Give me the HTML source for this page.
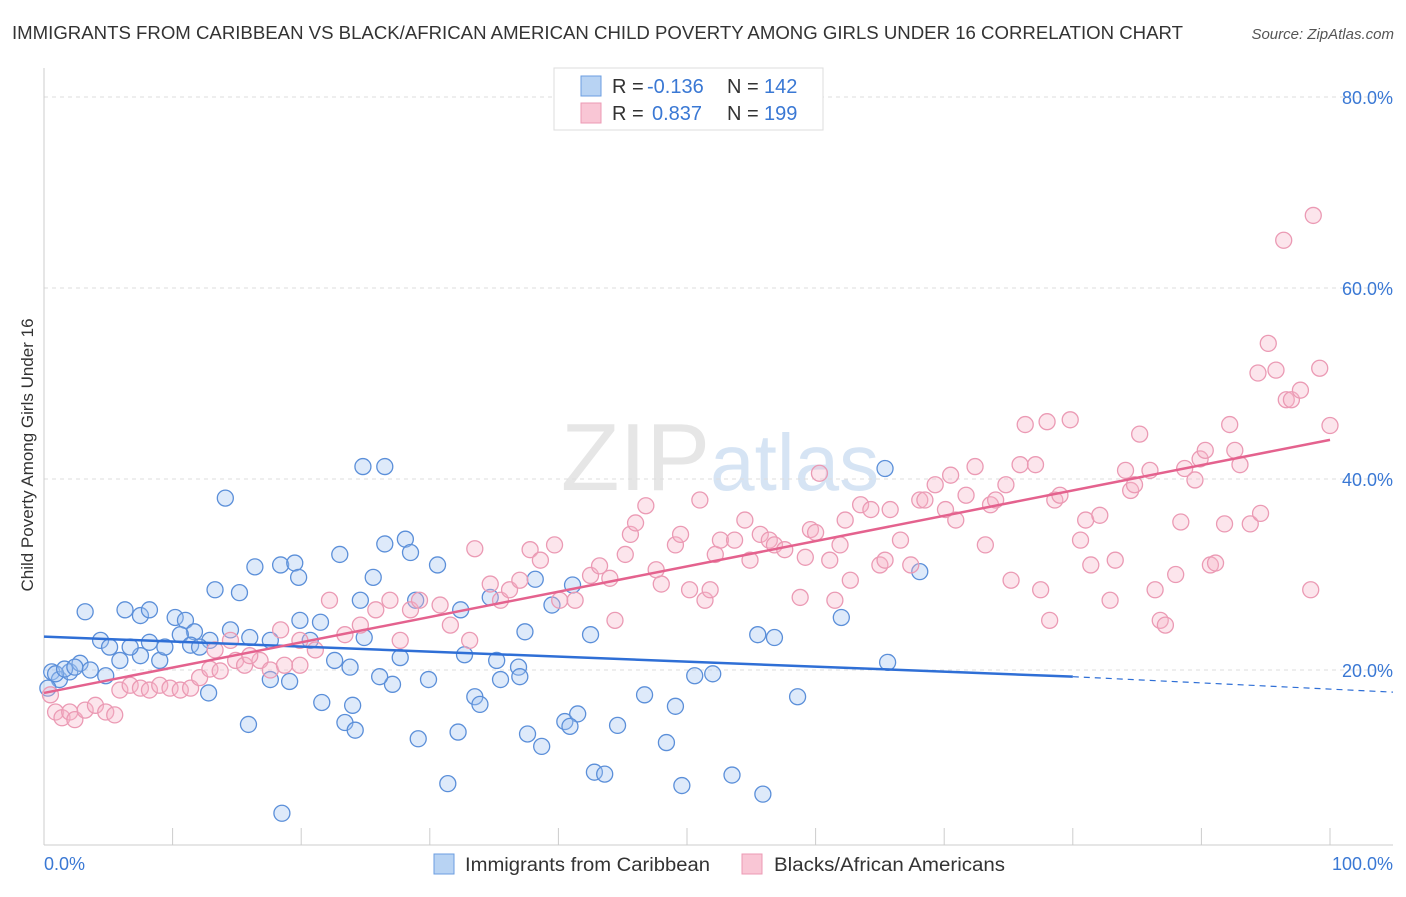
<!DOCTYPE html>
<html><head><meta charset="utf-8"><style>
body{margin:0;background:#fff;font-family:"Liberation Sans",sans-serif;}
svg text{font-family:"Liberation Sans",sans-serif;}
</style></head><body>
<svg id="chart" width="1406" height="892">
<text x="12" y="39" font-size="18" fill="#333" textLength="1171" lengthAdjust="spacingAndGlyphs">IMMIGRANTS FROM CARIBBEAN VS BLACK/AFRICAN AMERICAN CHILD POVERTY AMONG GIRLS UNDER 16 CORRELATION CHART</text>
<text x="1394" y="39" font-size="15" fill="#555" font-style="italic" text-anchor="end">Source: ZipAtlas.com</text>
<text x="720" y="490" font-size="96" fill="#e6e6e6" text-anchor="middle" font-family="Liberation Serif">ZIP<tspan fill="#d6e4f4" font-family="Liberation Sans" font-size="80">atlas</tspan></text>
<g id="grid"></g><g id="axes"></g><g id="pts"></g><g id="lines"></g>
<text transform="translate(33,455) rotate(-90)" font-size="17" fill="#333" text-anchor="middle">Child Poverty Among Girls Under 16</text>
<text x="44" y="870" font-size="18" fill="#3a78d4">0.0%</text>
<text x="1393" y="870" font-size="18" fill="#3a78d4" text-anchor="end">100.0%</text>
<g>
<rect x="554" y="68" width="269" height="62" fill="#fff" stroke="#ddd"/>
<rect x="581" y="76" width="20" height="20" fill="#b8d3f3" stroke="#6b9ee0"/>
<rect x="581" y="103" width="20" height="20" fill="#f9c6d5" stroke="#ec9ab4"/>
<text x="612" y="93" font-size="20" fill="#333">R =</text><text x="647" y="93" font-size="20" fill="#3a78d4">-0.136</text>
<text x="727" y="93" font-size="20" fill="#333">N =</text><text x="764" y="93" font-size="20" fill="#3a78d4">142</text>
<text x="612" y="120" font-size="20" fill="#333">R =</text><text x="652" y="120" font-size="20" fill="#3a78d4">0.837</text>
<text x="727" y="120" font-size="20" fill="#333">N =</text><text x="764" y="120" font-size="20" fill="#3a78d4">199</text>
</g>
<g><rect x="434" y="854" width="20" height="20" fill="#b8d3f3" stroke="#6b9ee0"/><text x="465" y="871" font-size="19" fill="#333" textLength="245" lengthAdjust="spacingAndGlyphs">Immigrants from Caribbean</text></g>
<g><rect x="742" y="854" width="20" height="20" fill="#f9c6d5" stroke="#ec9ab4"/><text x="774" y="871" font-size="19" fill="#333" textLength="231" lengthAdjust="spacingAndGlyphs">Blacks/African Americans</text></g>
</svg>
<script>
const yTicks=[20,40,60,80];
const blueX=[0.6,1.2,2.0,2.8,4.4,3.2,6.3,7.5,8.2,10.2,11.0,13.3,15.2,16.4,18.4,19.5,19.8,14.1,24.8,26.5,23.0,26.5,28.1,28.5,30.6,25.6,24.6,28.9,32.4,34.7,37.4,38.2,39.5,41.1,42.5,32.7,35.2,36.9,35.5,37.0,33.5,33.9,29.9,27.1,26.1,23.8,22.6,24.9,27.7,21.5,20.7,19.9,17.6,16.0,14.5,12.9,11.7,10.6,9.0,7.5,5.9,4.8,3.6,21.6,24.0,23.4,24.2,15.9,17.6,19.1,12.8,29.1,32.2,31.4,37.6,38.7,40.5,41.5,40.9,44.6,42.8,43.6,46.7,49.1,48.4,49.6,50.6,52.0,53.5,55.9,58.6,55.5,56.8,62.0,65.6,65.4,68.1,18.5,0.3,0.9,1.6,2.4,6.7,5.1,8.2,9.4,11.4,12.1];
const blueY=[19.8,19.0,19.8,20.7,23.1,26.1,26.3,25.7,26.3,25.5,25.2,28.4,28.1,30.8,31.0,31.2,29.7,38.0,41.3,41.3,32.1,33.2,33.7,32.3,31.0,29.7,27.3,27.3,26.3,27.6,24.0,29.5,26.8,28.9,23.7,21.6,21.0,20.3,19.0,19.3,17.2,16.4,19.0,18.5,19.3,20.3,21.0,23.4,21.3,25.0,23.1,25.2,23.1,23.4,24.2,23.1,24.0,23.7,21.0,21.5,21.0,19.4,20.0,16.6,16.3,14.5,13.7,14.3,19.0,18.8,17.6,12.8,13.5,8.1,13.3,12.0,14.6,15.4,14.1,14.2,9.3,9.1,17.4,16.2,12.4,7.9,19.4,19.6,9.0,7.0,17.2,23.7,23.4,25.5,20.8,41.1,30.3,5.0,18.1,19.6,20.1,20.3,22.4,22.4,22.9,22.4,22.6,22.4];
const pinkX=[0.5,0.9,1.4,2.0,2.4,3.2,4.0,4.8,5.5,5.9,6.7,7.5,8.2,9.0,9.8,10.6,11.4,12.1,12.9,13.7,14.9,15.6,16.8,17.6,18.7,19.9,13.3,14.5,16.0,18.4,19.9,21.1,22.2,23.4,24.6,25.8,26.9,27.7,28.5,29.2,30.8,31.6,33.1,33.5,34.7,35.5,36.2,37.0,37.8,38.6,39.7,40.1,41.3,42.5,43.2,44.0,44.4,45.2,45.6,46.0,46.8,47.6,48.0,49.1,49.5,50.2,51.0,51.4,51.8,52.2,52.6,53.7,54.5,54.9,55.7,56.4,56.8,57.6,58.8,59.2,59.6,60.0,60.3,61.1,61.5,61.9,62.3,62.7,63.5,64.3,65.0,65.4,65.8,66.6,67.4,68.1,68.5,69.3,70.1,70.5,70.9,71.7,72.4,73.2,73.6,74.0,74.8,75.2,75.9,76.3,77.1,77.5,78.0,78.2,78.6,79.0,79.8,80.6,81.0,81.4,82.1,82.9,83.3,84.1,84.5,84.8,85.2,86.0,86.4,86.8,87.2,88.0,88.4,88.7,89.5,89.9,90.3,90.7,91.1,91.8,92.2,92.6,93.0,93.8,94.6,94.4,95.2,95.8,96.6,97.0,97.7,98.5,99.2,100.0,96.4,98.7];
const pinkY=[17.4,15.6,15.0,15.6,14.8,15.8,16.3,15.6,15.3,17.9,18.4,18.1,17.9,18.4,18.1,17.9,18.1,19.2,20.1,19.9,21.0,20.5,21.0,20.0,20.5,20.5,22.1,23.1,21.5,24.2,23.1,22.1,27.3,23.7,24.7,26.3,27.3,23.1,26.3,27.3,26.8,24.7,23.1,32.7,29.0,27.3,28.4,29.4,32.6,31.5,33.1,27.3,27.3,29.9,30.9,29.6,25.2,32.1,34.2,35.4,37.2,30.5,29.0,33.1,34.2,28.4,37.8,27.3,28.4,32.1,33.6,33.6,35.7,31.5,34.2,33.6,33.1,32.6,27.6,31.8,34.7,34.4,40.6,31.5,27.3,33.1,35.7,29.4,37.3,36.8,31.0,31.5,36.8,33.6,31.0,37.8,37.8,39.4,36.8,40.4,35.7,38.3,41.3,33.1,37.3,37.8,39.4,29.4,41.5,45.7,41.5,28.4,46.0,25.2,37.8,38.3,46.2,33.6,35.7,31.0,36.2,27.3,31.5,40.9,38.8,39.4,44.7,40.9,28.4,25.2,24.7,30.0,35.5,41.1,39.9,42.1,43.0,31.0,31.2,35.3,45.7,43.0,41.5,35.3,36.4,51.1,54.2,51.4,48.3,48.3,49.3,28.4,51.6,45.6,65.0,67.6];
const blueTrend=[23.5,19.3,18.0]; // at x=0, 80, 100
const pinkTrend=[17.6,44.1];       // at x=0, 100
const NS='http://www.w3.org/2000/svg';
const sx=v=>44+v*12.86, sy=v=>861-v*9.55;
function mk(t,a,p){const e=document.createElementNS(NS,t);for(const k in a)e.setAttribute(k,a[k]);document.getElementById(p).appendChild(e);return e;}
yTicks.forEach(t=>{
 const g=mk('line',{x1:44,x2:1393,y1:sy(t),y2:sy(t),stroke:'#ddd','stroke-dasharray':'4,4'},'grid');
 
 
 const tx=mk('text',{x:1393,y:sy(t)+7,'font-size':18,fill:'#3a78d4','text-anchor':'end'},'grid');
 tx.textContent=t.toFixed(1)+'%';
 
 
});
mk('line',{x1:44,x2:1393,y1:845,y2:845,stroke:'#ccc'},'axes');
mk('line',{x1:44,x2:44,y1:68,y2:845,stroke:'#ccc'},'axes');
for(let i=0;i<=10;i++){const l=mk('line',{x1:sx(i*10),x2:sx(i*10),y1:828,y2:845,stroke:'#ccc'},'axes');
 
 }
blueX.forEach((x,i)=>{const c=mk('circle',{cx:sx(x),cy:sy(blueY[i]),r:8,fill:'rgba(160,196,240,0.35)',stroke:'#5b8fd9','stroke-width':1.3},'pts');
 
 });
pinkX.forEach((x,i)=>{const c=mk('circle',{cx:sx(x),cy:sy(pinkY[i]),r:8,fill:'rgba(245,180,200,0.35)',stroke:'#eb9ab4','stroke-width':1.3},'pts');
 
 });
const b1=mk('line',{x1:sx(0),y1:sy(blueTrend[0]),x2:sx(80),y2:sy(blueTrend[1]),stroke:'#2f6fd6','stroke-width':2.5},'lines');


const b2=mk('line',{x1:sx(80),y1:sy(blueTrend[1]),x2:1393,y2:sy(blueTrend[1]+(blueTrend[2]-blueTrend[1])*(1349/12.86-80)/20),stroke:'#2f6fd6','stroke-width':1.2,'stroke-dasharray':'6,5'},'lines');


const p1=mk('line',{x1:sx(0),y1:sy(pinkTrend[0]),x2:sx(100),y2:sy(pinkTrend[1]),stroke:'#e4628e','stroke-width':2.5},'lines');


</script>
</body></html>
